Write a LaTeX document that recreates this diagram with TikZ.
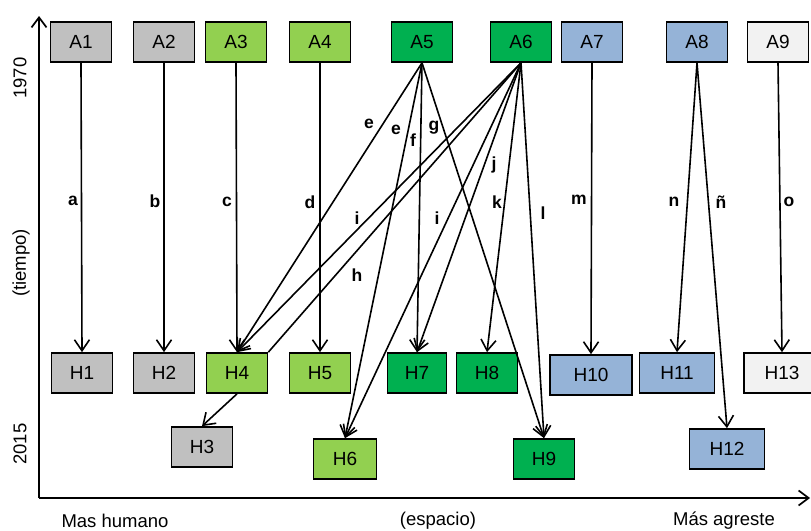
\documentclass[tikz,border=0pt]{standalone}
\usepackage{fontspec}
\setmainfont{Liberation Sans}
\usetikzlibrary{arrows.meta}

\definecolor{gris}{RGB}{192,192,192}
\definecolor{verdeclaro}{RGB}{146,208,80}
\definecolor{verde}{RGB}{0,176,80}
\definecolor{azul}{RGB}{149,179,215}
\definecolor{blanco}{RGB}{242,242,242}

\tikzset{
  caja/.style={draw=black, line width=1.7pt, minimum width=61pt, minimum height=40pt,
    inner sep=0pt, font=\fontsize{19}{21}\selectfont},
  flecha/.style={line width=1.6pt, -{Straight Barb[length=11pt,width=15pt,line width=1.6pt]}},
  eje/.style={line width=1.7pt, -{Straight Barb[length=10pt,width=15pt,line width=1.7pt]}},
  etiq/.style={font=\fontsize{17.5}{19}\selectfont\bfseries},
  texto/.style={font=\fontsize{18.5}{20}\selectfont},
}

\begin{document}
\begin{tikzpicture}[x=1pt, y=-1pt]
\useasboundingbox (0,0) rectangle (811,530);

  % Axes
  \coordinate (origen) at (39,498);
  \coordinate (tope) at (39,16);
  \coordinate (derecha) at (810,498);
  \draw[eje] (origen) -- (tope);
  \draw[eje] (origen) -- (derecha);
  \node[texto, rotate=90] (t1970) at (20,78) {1970};
  \node[texto, rotate=90] (tiempo) at (21,263) {(tiempo)};
  \node[texto, rotate=90] (t2015) at (20,444) {2015};
  \node[texto] (humano) at (115,521) {Mas humano};
  \node[texto] (espacio) at (438,521) {(espacio)};
  \node[texto] (agreste) at (724,521) {Más agreste};

  % 1970 row
  \node[caja, fill=gris] (A1) at (81,42) {A1};
  \node[caja, fill=gris] (A2) at (164,42) {A2};
  \node[caja, fill=verdeclaro] (A3) at (236,42) {A3};
  \node[caja, fill=verdeclaro] (A4) at (320,42) {A4};
  \node[caja, fill=verde] (A5) at (422,42) {A5};
  \node[caja, fill=verde] (A6) at (521,42) {A6};
  \node[caja, fill=azul] (A7) at (592,42) {A7};
  \node[caja, fill=azul] (A8) at (697,42) {A8};
  \node[caja, fill=blanco] (A9) at (778,42) {A9};

  % 2015 rows
  \node[caja, fill=gris] (H1) at (82,373) {H1};
  \node[caja, fill=gris] (H2) at (164,373) {H2};
  \node[caja, fill=verdeclaro] (H4) at (237,373) {H4};
  \node[caja, fill=verdeclaro] (H5) at (320,373) {H5};
  \node[caja, fill=verde, minimum width=59pt] (H7) at (417,373) {H7};
  \node[caja, fill=verde] (H8) at (487,373) {H8};
  \node[caja, fill=azul, minimum width=82pt] (H10) at (591,375) {H10};
  \node[caja, fill=azul, minimum width=75pt] (H11) at (677,373) {H11};
  \node[caja, fill=blanco, minimum width=76pt] (H13) at (782,373) {H13};
  \node[caja, fill=gris] (H3) at (202,447) {H3};
  \node[caja, fill=verdeclaro, minimum width=63pt] (H6) at (345,459) {H6};
  \node[caja, fill=verde] (H9) at (544,459) {H9};
  \node[caja, fill=azul, minimum width=75pt] (H12) at (727,449) {H12};

  % Straight paths
  \foreach \a/\h in {A1/H1, A2/H2, A3/H4, A4/H5, A7/H10, A9/H13}
    \draw[flecha] (\a.south) -- (\h.north);

  % Fans
  \foreach \h in {H4, H6, H7, H9}
    \draw[flecha] (A5.south) -- (\h.north);
  \foreach \h in {H4, H6, H7, H8, H9}
    \draw[flecha] (A6.south) -- (\h.north);
  \foreach \h in {H11, H12}
    \draw[flecha] (A8.south) -- (\h.north);
  \draw[line width=1.6pt] (A6.south) -- (H4.north east);
  \draw[flecha] (H4.south) -- (H3.north);

  % Labels
  \foreach \t/\x/\y [count=\n] in {a/73/201, b/155/201, c/227/202, d/310/202,
      e/369/124, e/396/130, f/413/140, g/434/128, j/494/165, k/497/202,
      l/543/213, m/579/200, n/674/202, ñ/721/202, o/789/202,
      i/357/218, i/437/218, h/357/275}
    \node[etiq] (lab\n) at (\x,\y) {\t};
\end{tikzpicture}
\end{document}
